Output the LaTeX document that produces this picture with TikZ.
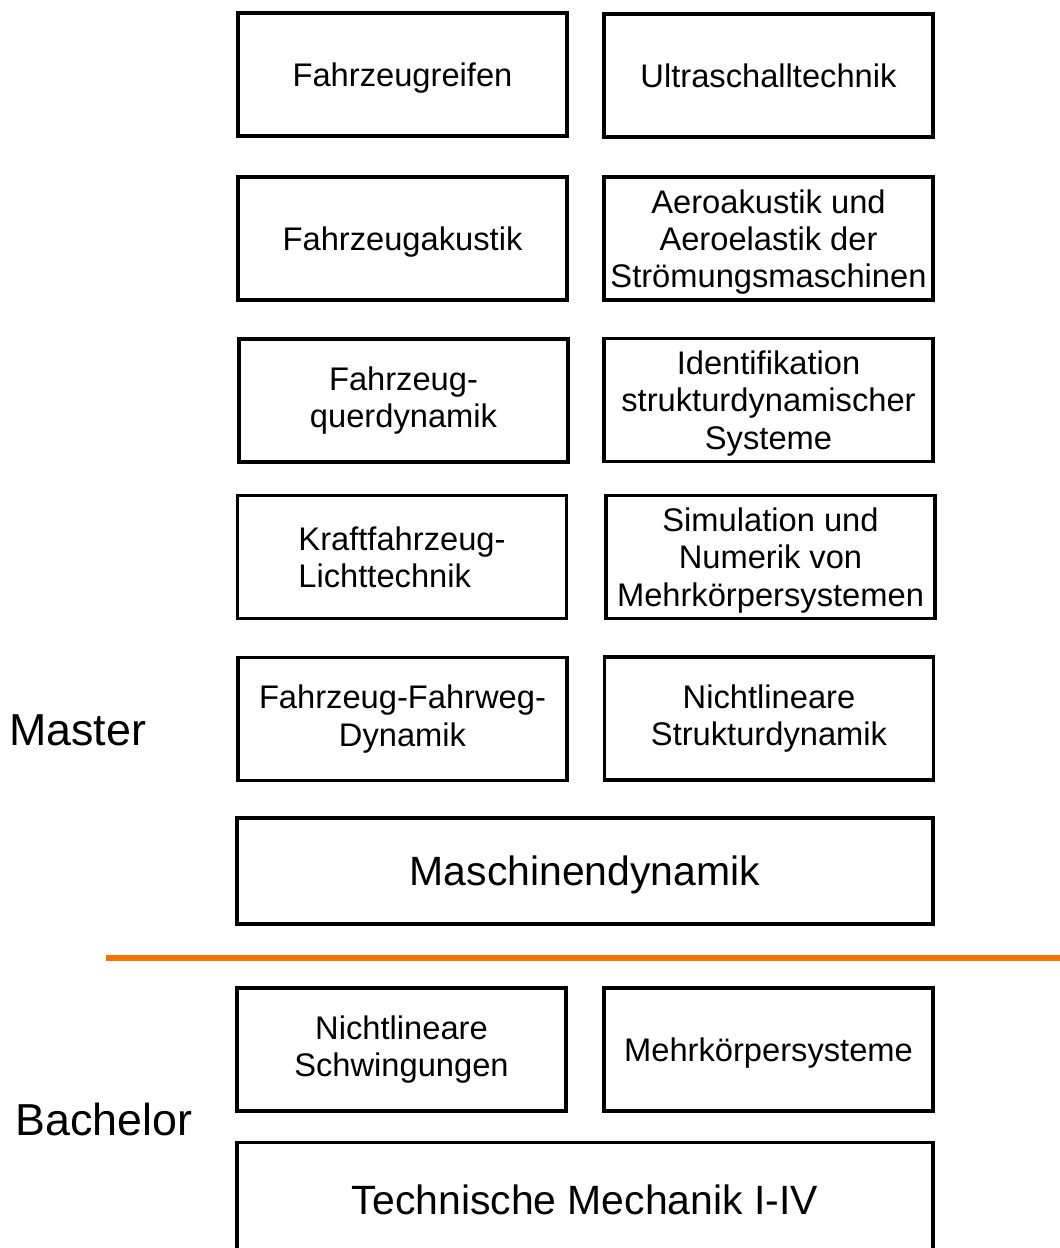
\documentclass[tikz,border=0pt]{standalone}
\usepackage{fontspec}
\setmainfont{Liberation Sans}
\definecolor{divider-color}{RGB}{242,118,0}

\tikzset{
  course/.style={draw, line width=1.9pt, align=center, inner sep=0pt,
    minimum width=6.58cm, minimum height=2.46cm,
    font=\fontsize{18.6}{21.2}\selectfont},
  flat/.style={text depth=0pt},
  basecourse/.style={course, minimum width=13.92cm,
    font=\fontsize{23.3}{26}\selectfont},
  level/.style={anchor=west, inner sep=0pt, font=\fontsize{25.5}{28}\selectfont}
}

\begin{document}
\begin{tikzpicture}[x=0.02cm,y=-0.02cm]
	    \useasboundingbox (0,0) rectangle (1060,1248);

	    % master modules, two columns
	    \node[course, flat] (reifen) at (402.5,74.5) {Fahrzeugreifen};
	    \node[course, flat] (ultraschall) at (768.5,75.5) {Ultraschalltechnik};

	    \node[course, flat] (akustik) at (402.5,238.5) {Fahrzeugakustik};
	    \node[course, flat] (aero) at (768.5,238.5) {Aeroakustik und\\Aeroelastik der\\Strömungsmaschinen};

	    \node[course] (querdyn) at (403.5,400.5) {Fahrzeug-\\querdynamik};
	    \node[course, flat] (ident) at (768.5,400) {Identifikation\\strukturdynamischer\\Systeme};

	    \node[course, align=left] (licht) at (402,557) {Kraftfahrzeug-\\Lichttechnik};
	    \node[course, flat] (mks) at (770.5,557) {Simulation und\\Numerik von\\Mehrkörpersystemen};

	    \node[course] (fahrweg) at (402.5,719) {Fahrzeug-Fahrweg-\\Dynamik};
	    \node[course] (strukdyn) at (769,718.5) {Nichtlineare\\Strukturdynamik};

	    \node[basecourse, flat, minimum height=2.12cm] (maschdyn) at (585,871) {Maschinendynamik};
	    \node[level] (master) at (9,730) {Master};

	    % border between the two levels
	    \coordinate (split-l) at (106,958);
	    \coordinate (split-r) at (1062,958);
	    \draw[divider-color, line width=2.9pt] (split-l) -- (split-r);

	    % bachelor modules
	    \node[course] (schwing) at (401.5,1049.5) {Nichtlineare\\Schwingungen};
	    \node[course, flat] (mehrk) at (768.5,1049.5) {Mehrkörpersysteme};
	    \node[basecourse, flat, minimum height=2.3cm] (techmech) at (585,1200) {Technische Mechanik I-IV};
	    \node[level] (bachelor) at (15,1119) {Bachelor};
	\end{tikzpicture}
\end{document}
